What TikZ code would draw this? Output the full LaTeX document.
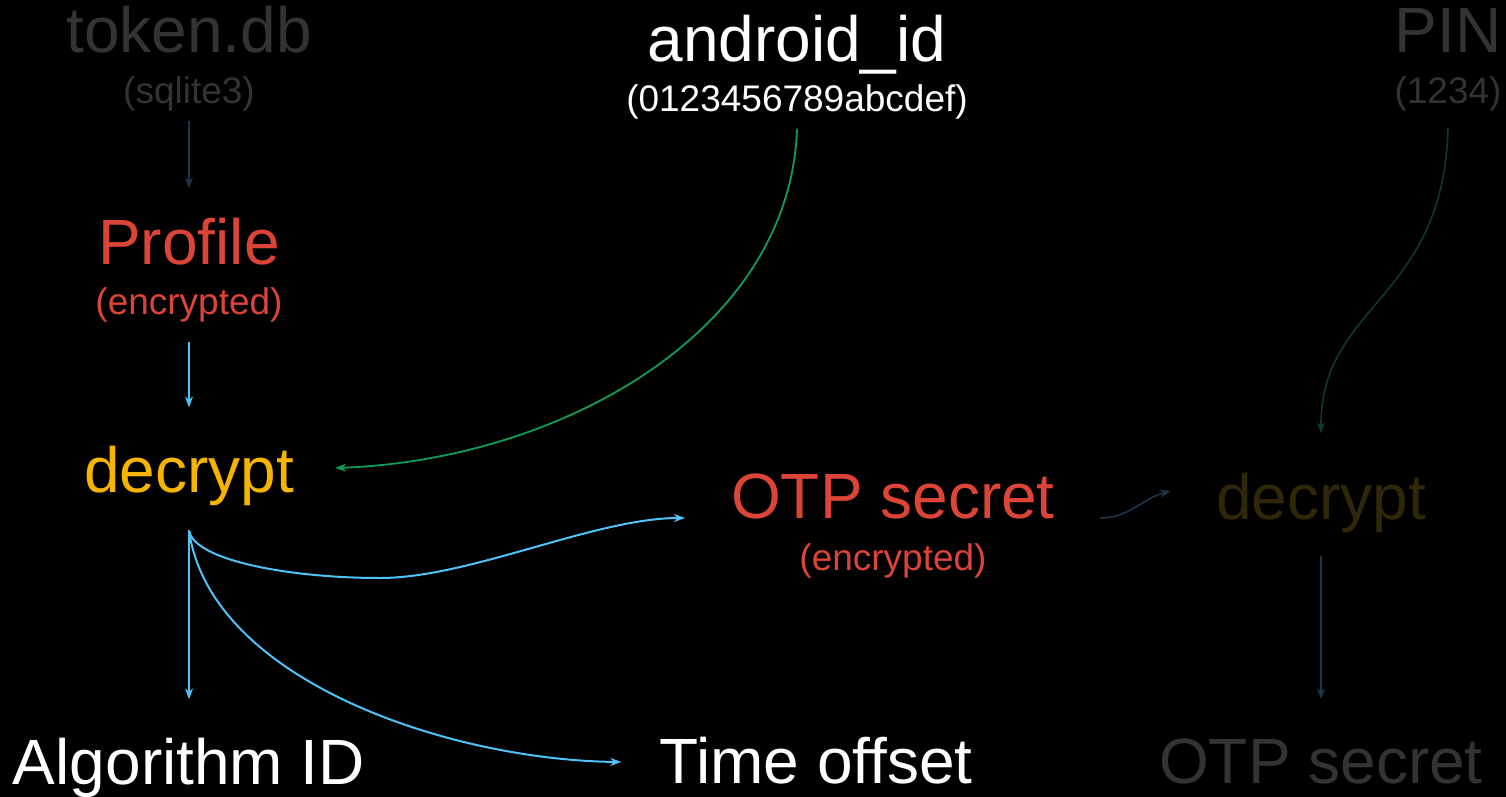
\documentclass[tikz,border=0pt]{standalone}
\usepackage{fontspec}
\setmainfont{Liberation Sans}
\usepackage{tikz}
\usetikzlibrary{positioning}
\usetikzlibrary{arrows.meta}
\definecolor{dim_gray}{HTML}{333333}
\definecolor{key_red}{HTML}{DB4437}
\definecolor{key_yellow}{HTML}{F4B400}
\definecolor{dim_yellow}{HTML}{302608}
\definecolor{flow_blue}{HTML}{4FC3F7}
\definecolor{dim_blue}{HTML}{1D3547}
\definecolor{key_green}{HTML}{0F9D58}
\definecolor{dim_green}{HTML}{0E3A27}
\tikzset{
  textnode/.style = {inner sep=0pt, align=center},
  big_node/.style = {textnode, font=\fontsize{64}{70}\selectfont},
  small_node/.style = {textnode, font=\fontsize{37}{44}\selectfont},
  tip/.style = {-{Stealth[length=11pt, width=8pt, inset=3.5pt]}},
  blue_edge/.style = {tip, draw=flow_blue, line width=2pt},
  green_edge/.style = {tip, draw=key_green, line width=1.8pt},
  dim_edge/.style = {tip, draw=dim_blue, line width=1.6pt},
  dimgreen_edge/.style = {tip, draw=dim_green, line width=1.6pt}
}
\begin{document}
\begin{tikzpicture}[x=1pt, y=-1pt]
  \fill[black] (0,0) rectangle (1506,797);
  \useasboundingbox (0,0) rectangle (1506,797);

  % inputs
  \node[big_node, dim_gray, anchor=base] (tokendb) at (189,53) {token.db};
  \node[small_node, dim_gray, below=51pt of tokendb.base, anchor=base] (tokendb_sub) {(sqlite3)};
  \node[big_node, white, anchor=base] (android) at (797,62) {android\_id};
  \node[small_node, white, below=50pt of android.base, anchor=base] (android_sub) {(0123456789abcdef)};
  \node[big_node, dim_gray, anchor=base] (pin) at (1448,53) {PIN};
  \node[small_node, dim_gray, below=51pt of pin.base, anchor=base] (pin_sub) {(1234)};

  % profile
  \node[big_node, key_red, anchor=base] (profile) at (189,264) {Profile};
  \node[small_node, key_red, below=50pt of profile.base, anchor=base] (profile_sub) {(encrypted)};
  \node[big_node, key_yellow, anchor=base] (decrypt_l) at (189,492) {decrypt};

  % otp secret
  \node[big_node, key_red, anchor=base] (otp_enc) at (893,518) {OTP secret};
  \node[small_node, key_red, below=52pt of otp_enc.base, anchor=base] (otp_enc_sub) {(encrypted)};
  \node[big_node, dim_yellow, anchor=base] (decrypt_r) at (1321,519) {decrypt};

  % outputs
  \node[big_node, white, anchor=base] (algo_id) at (189,784) {Algorithm ID};
  \node[big_node, white, anchor=base] (time_offset) at (816,783) {Time offset};
  \node[big_node, dim_gray, anchor=base] (otp_plain) at (1321,783) {OTP secret};

  \draw[dim_edge, shorten <=9pt, shorten >=29pt] (tokendb_sub.south) -- (profile.north);
  \draw[blue_edge, shorten <=20pt, shorten >=38pt] (profile_sub.south) -- (decrypt_l.north);
  \draw[green_edge] ([yshift=-9pt]android_sub.south)
    .. controls +(-7,203) and +(225,-8) .. ([xshift=41pt, yshift=24pt]decrypt_l.base east);

  \draw[blue_edge, shorten <=25pt, shorten >=38pt] (decrypt_l.south) -- (decrypt_l.south |- algo_id.north);
  \draw[blue_edge] ([yshift=-25pt]decrypt_l.south)
    .. controls +(5,30) and +(-90,0) .. (380,578)
    .. controls +(90,0) and +(-90,0) .. ([xshift=-46pt, yshift=0pt]otp_enc.base west);
  \draw[blue_edge] ([yshift=-25pt]decrypt_l.south)
    .. controls +(21,150) and +(-172,-2) .. ([xshift=-38pt, yshift=21pt]time_offset.base west);

  \draw[dim_edge] ([xshift=45pt, yshift=0pt]otp_enc.base east)
    .. controls +(30,0) and +(-30,8) .. ([xshift=-45pt, yshift=28pt]decrypt_r.base west);
  \draw[dimgreen_edge] ([yshift=-16pt]pin_sub.south)
    .. controls +(-4,173) and +(-1,-130) .. ([yshift=39pt]decrypt_r.north);
  \draw[dim_edge, shorten <=24pt, shorten >=39pt] (decrypt_r.south) -- (otp_plain.north);
\end{tikzpicture}
\end{document}
